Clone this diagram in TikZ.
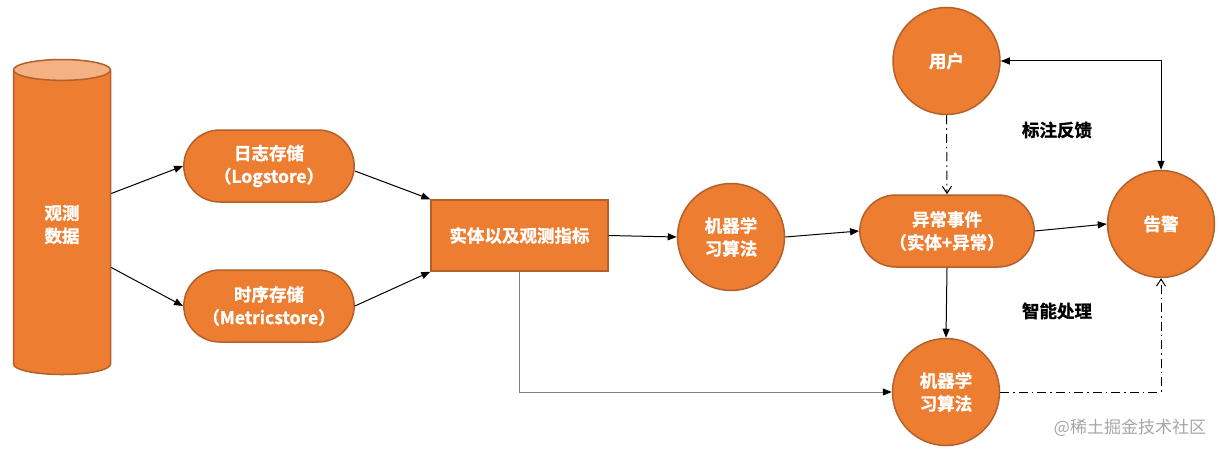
\documentclass[tikz,border=0pt]{standalone}
\usepackage{fontspec}
\setmainfont{Noto Sans CJK SC}[BoldFont={Noto Sans CJK SC Bold}, BoldFeatures={FakeBold=1.2}]
\usetikzlibrary{shapes.geometric,shapes.misc,arrows.meta}

\definecolor{boxorange}{HTML}{ED7D31}
\definecolor{boxedge}{HTML}{B3602A}
\definecolor{lidorange}{HTML}{F4B183}

\tikzset{
  stage/.style={draw=boxedge, line width=1.5pt, text=white, align=center,
    font=\fontsize{17.5}{23}\selectfont\bfseries},
  pill/.style={stage, fill=boxorange, rounded rectangle, minimum width=177pt, minimum height=72pt},
  blob/.style={stage, fill=boxorange, ellipse, minimum width=107pt, minimum height=107pt, inner sep=0pt},
  flow/.style={-{Triangle[length=9pt,width=7pt]}, line width=1pt},
  hint/.style={-{Straight Barb[length=7pt,width=9pt]}, line width=1pt,
    dash pattern=on 9pt off 4pt on 1.5pt off 4pt},
  note/.style={font=\fontsize{17.5}{21}\selectfont\bfseries}
}

\begin{document}
\begin{tikzpicture}[x=1pt,y=-1pt]
  \useasboundingbox (0,0) rectangle (1220,452);
  % data source
  \node[stage, cylinder, shape border rotate=90, aspect=0.5, minimum width=97pt, minimum height=315pt,
    cylinder uses custom fill, cylinder body fill=boxorange, cylinder end fill=lidorange] (obs) at (62,224.5) {观测\\数据};
  % storage
  \node[pill] (logs) at (269,166) {日志存储\\（Logstore）};
  \node[pill] (metrics) at (269,306) {时序存储\\（Metricstore）};
  \node[stage, fill=boxorange, minimum width=177pt, minimum height=71pt] (entity) at (519.5,235.5) {实体以及观测指标};
  % analysis
  \node[blob] (ml1) at (731,237) {机器学\\习算法};
  \node[pill, minimum width=181pt] (event) at (947,231) {异常事件\\（实体+异常）};
  \node[blob] (user) at (946.5,61) {用户};
  \node[blob] (alarm) at (1161,224) {告警};
  \node[blob] (ml2) at (946,392) {机器学\\习算法};
  \node[note] (feedback) at (1057,130) {标注反馈};
  \node[note] (smart) at (1057,311) {智能处理};
  \node[text=gray!70, font=\fontsize{17}{20}\selectfont] (mark) at (1130,428) {@稀土掘金技术社区};

  \draw[flow] ([yshift=31pt]obs.east) -- (logs.west);
  \draw[flow] ([yshift=-43pt]obs.east) -- (metrics.west);
  \draw[flow] ([yshift=-5pt]logs.east) -- (entity.north west);
  \draw[flow] (metrics.east) -- (entity.south west);
  \draw[flow] (entity.east) -- (ml1.west);
  \draw[flow] (ml1.east) -- (event.west);
  \draw[flow] (event.east) -- (alarm.west);
  \draw[hint] (user.south) -- (event.north);
  \draw[flow] (event.south) -- (ml2.north);
  \draw[-{Triangle[length=9pt,width=7pt,color=black]}, line width=1pt, draw=gray] (entity.south) |- (ml2.west);
  \draw[hint] (ml2.east) -| (alarm.south);
  \draw[{Triangle[length=9pt,width=7pt]}-{Triangle[length=9pt,width=7pt]}, line width=1pt] (user.east) -| (alarm.north);
\end{tikzpicture}
\end{document}
